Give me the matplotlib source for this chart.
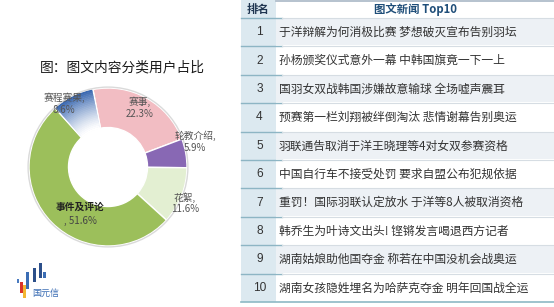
import numpy as np
import matplotlib.pyplot as plt
from matplotlib.patches import Rectangle, Wedge, Circle
from matplotlib.colors import to_rgb

plt.rcParams['font.family'] = ['Noto Sans CJK SC', 'DejaVu Sans']

# Data:

categories = ['赛事', '轮教介绍', '花絮', '事件及评论', '赛程赛果']
shares = [22.3, 5.9, 11.6, 51.6, 8.6]
slice_colors = ['#F2BDC3', '#8868B4', '#E3EFD2', '#9CBF5B', '#B7CDEA']

ranks = list(range(1, 11))
headlines = [
    '于洋辩解为何消极比赛 梦想破灭宣布告别羽坛',
    '孙杨颁奖仪式意外一幕 中韩国旗竟一下一上',
    '国羽女双战韩国涉嫌故意输球 全场嘘声震耳',
    '预赛第一栏刘翔被绊倒淘汰 悲情谢幕告别奥运',
    '羽联通告取消于洋王晓理等4对女双参赛资格',
    '中国自行车不接受处罚 要求自盟公布犯规依据',
    '重罚！国际羽联认定放水 于洋等8人被取消资格',
    '韩乔生为叶诗文出头! 铿锵发言喝退西方记者',
    '湖南姑娘助他国夺金 称若在中国没机会战奥运',
    '湖南女孩隐姓埋名为哈萨克夺金 明年回国战全运',
]

W, H = 554, 307
fig = plt.figure(figsize=(W / 100, H / 100), dpi=100)
fig.patch.set_facecolor('white')

# Donut:

cx, cy, r_px, box = 108, 167, 79, 90
ax = fig.add_axes([(cx - box) / W, (H - cy - box) / H, 2 * box / W, 2 * box / H])
R = r_px / box
wedges, _ = ax.pie(
    shares,
    colors=slice_colors,
    startangle=101,
    counterclock=False,
    radius=R,
    wedgeprops=dict(width=R * 0.5, edgecolor='white', linewidth=1),
)
ax.set_xlim(-1, 1)
ax.set_ylim(-1, 1)
ax.axis('off')

# blue slice gets a dark-to-white fade like the original
blue = wedges[4]
dark, light = np.array(to_rgb('#3A68B0')), np.array(to_rgb('#FFFFFF'))
n_rings = 24
inner = R * 0.5
for k in range(n_rings):
    r_out = R - k * (R - inner) / n_rings
    f = k / (n_rings - 1)
    col = dark * (1 - f) ** 1.3 + light * (1 - (1 - f) ** 1.3)
    ax.add_patch(Wedge((0, 0), r_out, blue.theta1 + 0.6, blue.theta2 - 0.6,
                       width=(R - inner) / n_rings + 0.005, color=col, lw=0))
ax.add_patch(Circle((0, 0), R + 0.01, fill=False, ec='#DADADA', lw=1.0))

# Overlay axes in pixel coordinates for texts and the table:

tx = fig.add_axes([0, 0, 1, 1], zorder=3)
tx.set_xlim(0, W)
tx.set_ylim(H, 0)
tx.axis('off')

tx.text(122, 67, '图：图文内容分类用户占比', fontsize=9.9, color='#1A1A1A',
        ha='center', va='center', fontweight='medium')

label_pos = [(140, 108), (195, 142), (185, 203), (80, 214), (64, 104)]
for cat, share, (lx, ly) in zip(categories, shares, label_pos):
    if cat == '事件及评论':
        tx.text(lx, ly - 7, cat, fontsize=7, color='#222222', ha='center',
                va='center', fontweight='bold')
        tx.text(lx, ly + 7, f', {share}%', fontsize=7, color='#444444',
                ha='center', va='center')
    else:
        tx.text(lx, ly, f'{cat},\n{share}%', fontsize=7, color='#555555',
                ha='center', va='center', linespacing=1.2)

# small logo
logo_bars = [(17, 279, 2, 4, '#4A7BC0'), (20, 282, 2.5, 11, '#D9342B'),
             (23, 285, 2.5, 13, '#F2B632'), (26, 272, 2.5, 17, '#3B6DB4'),
             (33, 268, 2.5, 14, '#2C4F8A'), (39, 263, 2.5, 15, '#2C4F8A'),
             (43, 272, 2.5, 6, '#3B6DB4')]
for bx, by, bw, bh, bc in logo_bars:
    tx.add_patch(Rectangle((bx, by), bw, bh, fc=bc, ec='none'))
tx.text(46, 293, '国元信', fontsize=6.5, color='#3B6DB4', ha='center', va='center')

# Table:

x_rank0, x_rank1, x_end = 241, 276, 554
top, row_h = 18, 28.4
bottom = top + row_h * len(ranks)

tx.add_patch(Rectangle((x_rank0, 0), x_rank1 - x_rank0, bottom, fc='#DCE9F0', ec='none'))
tx.plot([x_rank1, x_end], [1.2, 1.2], color='#A9B8C6', lw=1.2)

tx.text((x_rank0 + x_rank1) / 2, 9, '排名', fontsize=8.2, fontweight='bold',
        color='#1F3550', ha='center', va='center')
tx.text(415, 9, '图文新闻 Top10', fontsize=8.2, fontweight='bold',
        color='#1F4E79', ha='center', va='center')

for i, (rank, headline) in enumerate(zip(ranks, headlines)):
    y0 = top + i * row_h
    if i % 2 == 0:
        tx.add_patch(Rectangle((x_rank1, y0 + 1), x_end - x_rank1, row_h - 2,
                               fc='#EDF1F5', ec='none'))
    tx.plot([x_rank0, x_rank1 + 6], [y0, y0], color='#8DB5C4', lw=1.0)
    tx.plot([x_rank1 + 6, x_end], [y0, y0], color='#D6DDE3', lw=0.8)
    tx.text((x_rank0 + x_rank1) / 2 + 1, y0 + row_h / 2, str(rank),
            fontsize=8.6, color='#333333', ha='center', va='center',
            family=['Liberation Sans', 'DejaVu Sans'])
    tx.text(x_rank1 + 3, y0 + row_h / 2, headline, fontsize=8.5,
            color='#333333', ha='left', va='center')

tx.plot([x_rank0, x_end], [bottom, bottom], color='#8DB9C5', lw=1.2)

fig.savefig('out.png', dpi=100, facecolor='white')
